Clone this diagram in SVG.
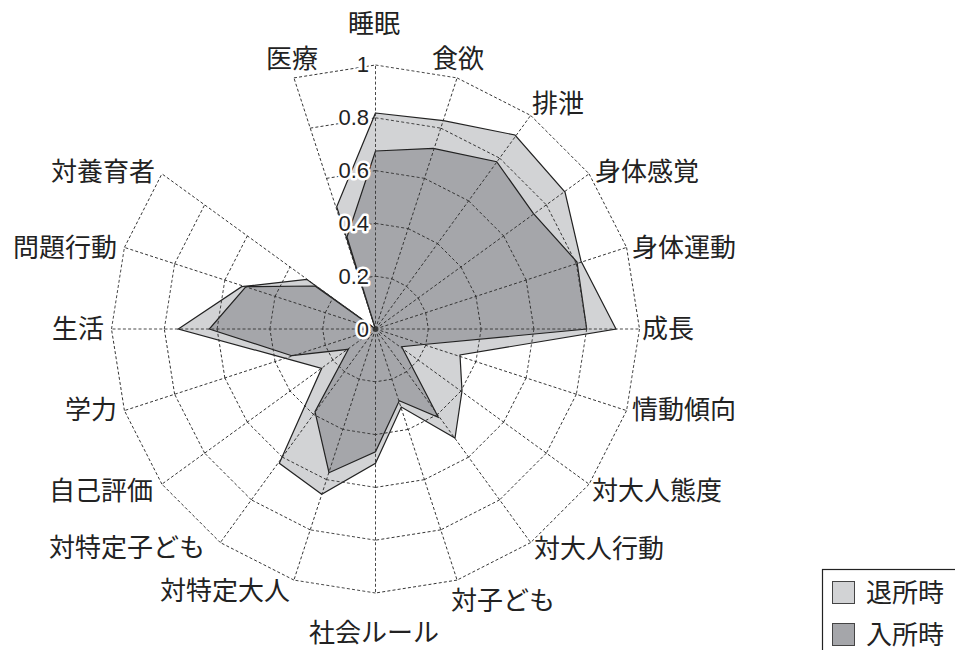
<svg xmlns="http://www.w3.org/2000/svg" xmlns:xlink="http://www.w3.org/1999/xlink" width="955" height="650" viewBox="0 0 955 650">
<style>
.g{stroke:#333;stroke-width:0.9;stroke-dasharray:3 2.2;fill:none}
.lbl{font-family:"Noto Sans CJK JP","Noto Sans",sans-serif;font-size:26px;fill:#222;text-anchor:middle}
.num{font-family:"Liberation Sans",Arial,sans-serif;font-size:22px;fill:#222;text-anchor:end;stroke:#fff;stroke-width:5;stroke-linejoin:round;paint-order:stroke}
.poly{stroke:#222;stroke-width:1.2;stroke-linejoin:miter}
.leg{font-family:"Noto Sans CJK JP","Noto Sans",sans-serif;font-size:26px;fill:#222}
</style>
<defs>
<g id="sec">
<line x1="375.5" y1="276.2" x2="391.82" y2="278.78"/>
<line x1="375.5" y1="223.4" x2="408.13" y2="228.57"/>
<line x1="375.5" y1="170.6" x2="424.45" y2="178.35"/>
<line x1="375.5" y1="117.8" x2="440.77" y2="128.14"/>
<line x1="375.5" y1="65" x2="457.08" y2="77.92"/>
</g>
<line id="ax" x1="375.5" y1="329" x2="375.5" y2="65"/>
</defs>
<rect width="955" height="650" fill="#fff"/>
<g id="series">
<polygon id="taisho" class="poly" fill="#d2d3d5" points="375.5,113 443.5,120.7 515,135 565,192 581,261 616,329 460,355 462,391 455,438 401.3,407 375.5,463.3 321.7,494.3 279.3,463.3 321.7,368.3 285.6,358.4 178.3,329 241.7,286.7 306.7,279.3 375.5,329 336.7,206.7"/>
<polygon id="nyusho" class="poly" fill="#a5a6aa" points="375.5,151 433.3,148.3 496.7,161.7 533.3,213.3 577,262 586.7,329 423.6,344.5 401.7,346.7 438.3,417.3 399.3,400.7 375.5,451.7 329,472.7 315,411.7 348.3,349.3 291.7,355.7 209.3,329 246,286.7 315,286 375.5,329 347,237"/>
</g>
<g id="grid" class="g">
<use xlink:href="#sec" transform="rotate(0 375.5 329)"/>
<use xlink:href="#sec" transform="rotate(18 375.5 329)"/>
<use xlink:href="#sec" transform="rotate(36 375.5 329)"/>
<use xlink:href="#sec" transform="rotate(54 375.5 329)"/>
<use xlink:href="#sec" transform="rotate(72 375.5 329)"/>
<use xlink:href="#sec" transform="rotate(90 375.5 329)"/>
<use xlink:href="#sec" transform="rotate(108 375.5 329)"/>
<use xlink:href="#sec" transform="rotate(126 375.5 329)"/>
<use xlink:href="#sec" transform="rotate(144 375.5 329)"/>
<use xlink:href="#sec" transform="rotate(162 375.5 329)"/>
<use xlink:href="#sec" transform="rotate(180 375.5 329)"/>
<use xlink:href="#sec" transform="rotate(198 375.5 329)"/>
<use xlink:href="#sec" transform="rotate(216 375.5 329)"/>
<use xlink:href="#sec" transform="rotate(234 375.5 329)"/>
<use xlink:href="#sec" transform="rotate(252 375.5 329)"/>
<use xlink:href="#sec" transform="rotate(270 375.5 329)"/>
<use xlink:href="#sec" transform="rotate(288 375.5 329)"/>
<use xlink:href="#sec" transform="rotate(342 375.5 329)"/>
<use xlink:href="#ax" transform="rotate(0 375.5 329)"/>
<use xlink:href="#ax" transform="rotate(18 375.5 329)"/>
<use xlink:href="#ax" transform="rotate(36 375.5 329)"/>
<use xlink:href="#ax" transform="rotate(54 375.5 329)"/>
<use xlink:href="#ax" transform="rotate(72 375.5 329)"/>
<use xlink:href="#ax" transform="rotate(90 375.5 329)"/>
<use xlink:href="#ax" transform="rotate(108 375.5 329)"/>
<use xlink:href="#ax" transform="rotate(126 375.5 329)"/>
<use xlink:href="#ax" transform="rotate(144 375.5 329)"/>
<use xlink:href="#ax" transform="rotate(162 375.5 329)"/>
<use xlink:href="#ax" transform="rotate(180 375.5 329)"/>
<use xlink:href="#ax" transform="rotate(198 375.5 329)"/>
<use xlink:href="#ax" transform="rotate(216 375.5 329)"/>
<use xlink:href="#ax" transform="rotate(234 375.5 329)"/>
<use xlink:href="#ax" transform="rotate(252 375.5 329)"/>
<use xlink:href="#ax" transform="rotate(270 375.5 329)"/>
<use xlink:href="#ax" transform="rotate(288 375.5 329)"/>
<use xlink:href="#ax" transform="rotate(306 375.5 329)"/>
<use xlink:href="#ax" transform="rotate(342 375.5 329)"/>
</g>
<g id="scale">
<text class="num" x="369" y="72">1</text>
<text class="num" x="369" y="125">0.8</text>
<text class="num" x="369" y="178">0.6</text>
<text class="num" x="369" y="231">0.4</text>
<text class="num" x="369" y="284">0.2</text>
<text class="num" x="369" y="337">0</text>
</g>
<g id="ax-suimin"><text class="lbl" x="374" y="33">睡眠</text></g>
<g id="ax-shokuyoku"><text class="lbl" x="458" y="68">食欲</text></g>
<g id="ax-haisetsu"><text class="lbl" x="558" y="113">排泄</text></g>
<g id="ax-shintaikankaku"><text class="lbl" x="647" y="181">身体感覚</text></g>
<g id="ax-shintaiundo"><text class="lbl" x="684" y="257">身体運動</text></g>
<g id="ax-seicho"><text class="lbl" x="668" y="338">成長</text></g>
<g id="ax-jodo"><text class="lbl" x="684" y="419">情動傾向</text></g>
<g id="ax-taiotonataido"><text class="lbl" x="657" y="500">対大人態度</text></g>
<g id="ax-taiotonakodo"><text class="lbl" x="599" y="558">対大人行動</text></g>
<g id="ax-taikodomo"><text class="lbl" x="503" y="610">対子ども</text></g>
<g id="ax-shakairule"><text class="lbl" x="374" y="642">社会ルール</text></g>
<g id="ax-tokuteiotona"><text class="lbl" x="225" y="600">対特定大人</text></g>
<g id="ax-tokuteikodomo"><text class="lbl" x="127" y="557">対特定子ども</text></g>
<g id="ax-jikohyoka"><text class="lbl" x="101" y="500">自己評価</text></g>
<g id="ax-gakuryoku"><text class="lbl" x="91" y="419">学力</text></g>
<g id="ax-seikatsu"><text class="lbl" x="78" y="338">生活</text></g>
<g id="ax-mondai"><text class="lbl" x="65" y="257">問題行動</text></g>
<g id="ax-yoikusha"><text class="lbl" x="103" y="181">対養育者</text></g>
<g id="ax-iryo"><text class="lbl" x="292" y="68">医療</text></g>
<g id="legend">
<rect x="822.5" y="569.5" width="140" height="100" fill="#fff" stroke="#222" stroke-width="1.2"/>
<rect x="832.5" y="581.5" width="22" height="22" fill="#d2d3d5" stroke="#444" stroke-width="1"/>
<text class="leg" x="866" y="602">退所時</text>
<rect x="832.5" y="623.5" width="22" height="22" fill="#a5a6aa" stroke="#444" stroke-width="1"/>
<text class="leg" x="866" y="644">入所時</text>
</g>
</svg>
